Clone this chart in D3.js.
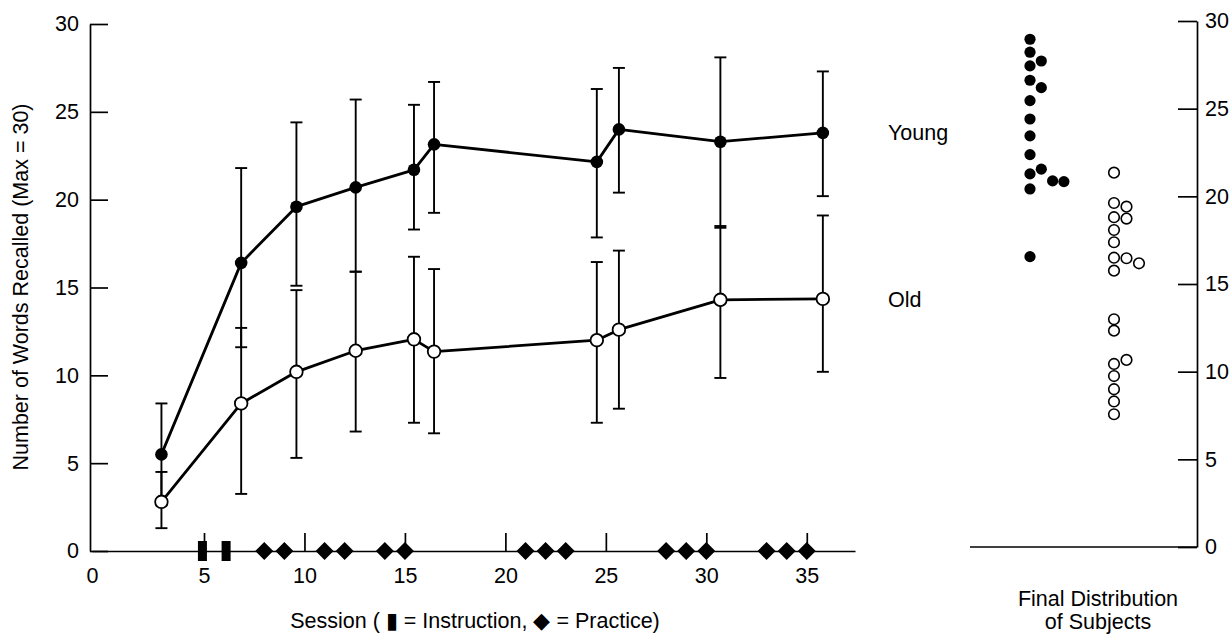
<!DOCTYPE html>
<html>
<head>
<meta charset="utf-8">
<script src="https://cdn.jsdelivr.net/npm/d3@7"></script>
<style>
  html, body { margin: 0; padding: 0; background: #fff; }
  svg { display: block; }
  text { font-family: "Liberation Sans", Arial, Helvetica, sans-serif; fill: #000; }
</style>
</head>
<body>
<script>
// ---------------- data ----------------
const sessions = [3.1, 6.85, 9.6, 12.55, 15.45, 16.45, 24.55, 25.65, 30.7, 35.8];
const youngMean = [5.5, 16.4, 19.6, 20.7, 21.7, 23.15, 22.15, 24.0, 23.3, 23.8];
const youngLo   = [2.6, 11.6, 15.1, 15.9, 18.3, 19.25, 17.85, 20.4, 18.4, 20.2];
const youngHi   = [8.4, 21.8, 24.4, 25.7, 25.4, 26.7, 26.3, 27.5, 28.1, 27.3];
const oldMean   = [2.8, 8.4, 10.2, 11.4, 12.05, 11.35, 12.0, 12.6, 14.3, 14.35];
const oldLo     = [1.3, 3.25, 5.3, 6.8, 7.3, 6.7, 7.3, 8.1, 9.85, 10.2];
const oldHi     = [4.5, 12.7, 14.85, 15.9, 16.75, 16.05, 16.45, 17.1, 18.5, 19.1];

const instructionSessions = [4.93, 6.1];
const practiceSessions = [8, 9, 11, 12, 14, 15, 21, 22, 23, 28, 29, 30, 33, 34, 35];

const xTicks = [0, 5, 10, 15, 20, 25, 30, 35];
const yTicks = [0, 5, 10, 15, 20, 25, 30];

// final distribution of subjects (value, stacking column)
const youngFinal = [28.96, 28.22, 27.44, 26.62, 25.46, 24.41, 23.45, 22.38, 21.28, 20.42, 16.56,
                    27.72, 26.2, 21.55, 20.88, 20.84];
const youngFinalCol = [0,0,0,0,0,0,0,0,0,0,0, 1,1,1, 2, 3];
const oldFinal = [21.35, 19.62, 18.81, 18.08, 17.38, 16.5, 15.76, 12.99, 12.34, 10.44, 9.75, 9.0, 8.3, 7.57,
                  19.41, 18.73, 16.47, 10.67, 16.18];
const oldFinalCol = [0,0,0,0,0,0,0,0,0,0,0,0,0,0, 1,1,1,1, 2];

const groupLabels = ["Young", "Old"];
const groupLabelValues = [23.2, 13.7];

// ---------------- chart ----------------
const W = 1232, H = 636;
const FONT = 21.5;
const svg = d3.select("body").append("svg").attr("width", W).attr("height", H);

const x = d3.scaleLinear().domain([0, 5, 37.4]).range([92, 204, 855]);
const y = d3.scaleLinear().domain([0, 30]).range([551, 24]);
const y2 = d3.scaleLinear().domain([0, 30]).range([547, 21]);

function styleAxis(g) {
  g.selectAll("path.domain").attr("stroke", "#000").attr("stroke-width", 1.7);
  g.selectAll(".tick line").attr("stroke", "#000").attr("stroke-width", 1.7);
  g.selectAll(".tick text").attr("font-size", FONT).attr("font-family", "Liberation Sans, Arial, sans-serif").attr("fill", "#000");
}

// left y axis
svg.append("g")
  .attr("transform", "translate(90,0)")
  .call(d3.axisLeft(y).tickValues(yTicks).tickSize(-18).tickSizeOuter(0).tickPadding(11).tickFormat(d3.format("d")))
  .call(styleAxis);

// bottom x axis
const xg = svg.append("g")
  .attr("transform", `translate(0,${y(0)})`)
  .call(d3.axisBottom(x).tickValues(xTicks).tickSize(-18).tickSizeOuter(0).tickPadding(17).tickFormat(d3.format("d")))
  .call(styleAxis);
xg.selectAll(".tick").filter(d => d === 0).select("line").remove();

// right axis
svg.append("g")
  .attr("transform", "translate(1197,0)")
  .call(d3.axisRight(y2).tickValues(yTicks).tickSize(-19).tickSizeOuter(0).tickPadding(8).tickFormat(d3.format("d")))
  .call(styleAxis);
svg.append("line")
  .attr("x1", 970).attr("x2", 1197).attr("y1", y2(0)).attr("y2", y2(0))
  .attr("stroke", "#000").attr("stroke-width", 1.7);

// session markers on the x axis
svg.append("g").selectAll("rect").data(instructionSessions).join("rect")
  .attr("x", d => x(d) - 4.5).attr("y", y(0) - 10).attr("width", 9).attr("height", 20)
  .attr("fill", "#000");
svg.append("g").selectAll("path").data(practiceSessions).join("path")
  .attr("transform", d => `translate(${x(d)},${y(0)})`)
  .attr("d", "M0,-9L9,0L0,9L-9,0Z")
  .attr("fill", "#000");

// error bars
function errorBars(lo, hi) {
  const g = svg.append("g").attr("stroke", "#000").attr("stroke-width", 1.9).attr("fill", "none");
  sessions.forEach((s, i) => {
    const cx = x(s);
    g.append("line").attr("x1", cx).attr("x2", cx).attr("y1", y(lo[i])).attr("y2", y(hi[i]));
    g.append("line").attr("x1", cx - 6).attr("x2", cx + 6).attr("y1", y(lo[i])).attr("y2", y(lo[i]));
    g.append("line").attr("x1", cx - 6).attr("x2", cx + 6).attr("y1", y(hi[i])).attr("y2", y(hi[i]));
  });
}
errorBars(oldLo, oldHi);
errorBars(youngLo, youngHi);

// lines
const line = d3.line().x(d => x(d[0])).y(d => y(d[1]));
[youngMean, oldMean].forEach(arr => {
  svg.append("path")
    .attr("d", line(sessions.map((s, i) => [s, arr[i]])))
    .attr("fill", "none").attr("stroke", "#000").attr("stroke-width", 2.8)
    .attr("stroke-linejoin", "round");
});

// markers
svg.append("g").selectAll("circle").data(sessions).join("circle")
  .attr("cx", d => x(d)).attr("cy", (d, i) => y(youngMean[i])).attr("r", 6.3)
  .attr("fill", "#000");
svg.append("g").selectAll("circle").data(sessions).join("circle")
  .attr("cx", d => x(d)).attr("cy", (d, i) => y(oldMean[i])).attr("r", 6.3)
  .attr("fill", "#fff").attr("stroke", "#000").attr("stroke-width", 1.8);

// final distribution dots
svg.append("g").selectAll("circle").data(youngFinal).join("circle")
  .attr("cx", (d, i) => 1030 + youngFinalCol[i] * 11.3)
  .attr("cy", d => y2(d)).attr("r", 5.6).attr("fill", "#000");
svg.append("g").selectAll("circle").data(oldFinal).join("circle")
  .attr("cx", (d, i) => 1114 + oldFinalCol[i] * 12.5)
  .attr("cy", d => y2(d)).attr("r", 5.3)
  .attr("fill", "#fff").attr("stroke", "#000").attr("stroke-width", 1.6);

// group labels
svg.append("g").selectAll("text").data(groupLabels).join("text")
  .attr("x", 888).attr("y", (d, i) => y2(groupLabelValues[i]))
  .attr("font-size", FONT).text(d => d);

// titles
svg.append("text")
  .attr("transform", "translate(28,287) rotate(-90)")
  .attr("text-anchor", "middle").attr("font-size", FONT)
  .text("Number of Words Recalled (Max = 30)");

svg.append("text")
  .attr("x", 475).attr("y", 628).attr("text-anchor", "middle").attr("font-size", FONT)
  .text("Session ( \u25AE = Instruction, \u25C6 = Practice)");

svg.append("text")
  .attr("x", 1098).attr("y", 606).attr("text-anchor", "middle").attr("font-size", FONT)
  .text("Final Distribution");
svg.append("text")
  .attr("x", 1098).attr("y", 629).attr("text-anchor", "middle").attr("font-size", FONT)
  .text("of Subjects");
</script>
</body>
</html>
